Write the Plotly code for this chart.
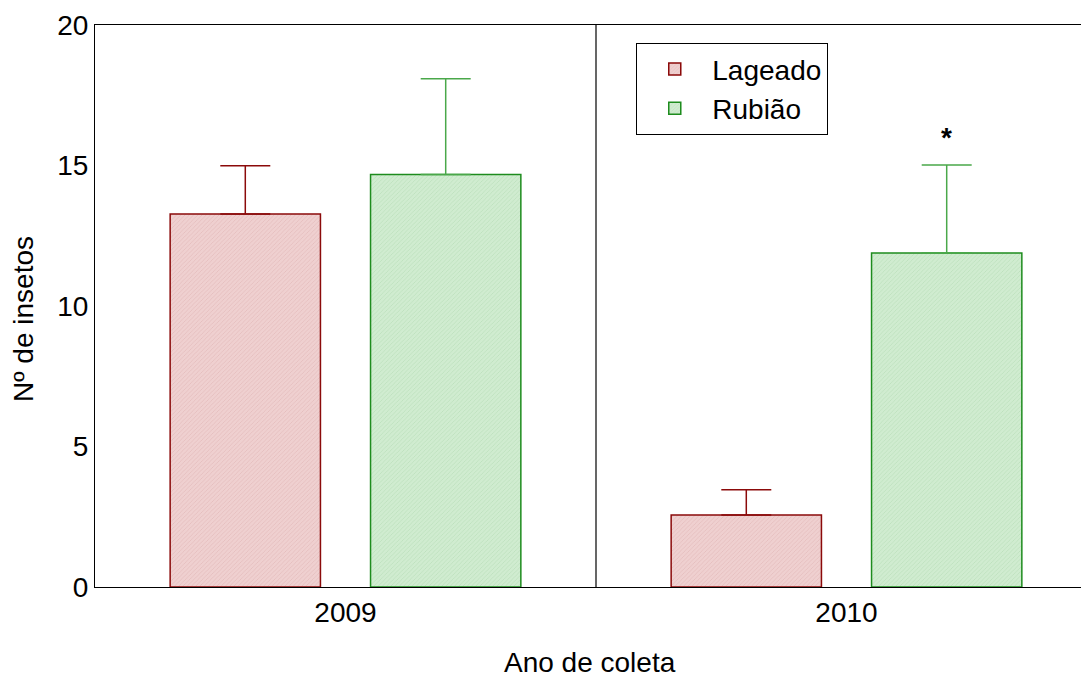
import plotly.graph_objects as go

years = ["2009", "2010"]
lageado_mean = [13.27, 2.56]
lageado_err = [1.72, 0.90]
rubiao_mean = [14.68, 11.89]
rubiao_err = [3.41, 3.13]
signif_year = ["2010"]
signif_y = [16.0]

xpos = list(range(len(years)))
FONT = "Liberation Sans, Arial"

fig = go.Figure()
fig.add_trace(go.Bar(
    name="Lageado", x=xpos, y=lageado_mean, width=0.3, offset=-0.35,
    marker=dict(color="#ecc8c8", line=dict(color="#8b0a0a", width=1.5),
                pattern=dict(shape="/", size=3, solidity=0.25, fgcolor="#d9a8a8", bgcolor="#efd0d0")),
    error_y=dict(type="data", array=lageado_err, arrayminus=[0]*len(years), symmetric=False,
                 color="#8b0a0a", thickness=1.5, width=25),
))
fig.add_trace(go.Bar(
    name="Rubião", x=xpos, y=rubiao_mean, width=0.3, offset=0.05,
    marker=dict(color="#c8e8c8", line=dict(color="#1e8c1e", width=1.5),
                pattern=dict(shape="/", size=3, solidity=0.25, fgcolor="#a8d4a8", bgcolor="#d0ecd0")),
    error_y=dict(type="data", array=rubiao_err, arrayminus=[0]*len(years), symmetric=False,
                 color="#4aa84a", thickness=1.5, width=25),
))

for yr, yv in zip(signif_year, signif_y):
    fig.add_annotation(x=years.index(yr) + 0.2, y=yv, text="<b>*</b>", showarrow=False,
                       font=dict(size=28, color="black", family=FONT))

# axis titles
fig.add_annotation(xref="paper", yref="paper", x=0.494, y=-0.1335, text="Ano de coleta",
                   showarrow=False, xanchor="center", yanchor="middle",
                   font=dict(size=28, family=FONT, color="black"))
fig.add_annotation(xref="paper", yref="paper", x=-0.0709, y=0.477, text="Nº de insetos",
                   textangle=-90, showarrow=False, xanchor="center", yanchor="middle",
                   font=dict(size=28, family=FONT, color="black"))

# category divider
for i in range(len(years) - 1):
    fig.add_shape(type="line", xref="x", yref="y", x0=i + 0.5, x1=i + 0.5, y0=0, y1=20,
                  line=dict(color="black", width=1.2))

fig.update_layout(
    width=1089, height=677,
    margin=dict(l=87, r=0, t=17, b=98, autoexpand=False),
    plot_bgcolor="white", paper_bgcolor="white",
    font=dict(family=FONT, size=28, color="black"),
    barmode="overlay",
    showlegend=True,
    legend=dict(x=0.54, y=0.968, xanchor="left", yanchor="top",
                bordercolor="black", borderwidth=1.2, bgcolor="white",
                font=dict(size=28, family=FONT), itemwidth=65, tracegroupgap=10),
    xaxis=dict(tickmode="array", tickvals=xpos, ticktext=years, range=[-0.5, 1.5],
               showline=True, linecolor="black", linewidth=1.2, mirror=True,
               showgrid=False, zeroline=False, ticks="", automargin=False,
               tickfont=dict(size=28, family=FONT)),
    yaxis=dict(range=[0, 20], tickvals=[0, 5, 10, 15, 20], showline=True, linecolor="black",
               linewidth=1.2, showgrid=False, zeroline=False, ticks="", automargin=False,
               tickfont=dict(size=28, family=FONT)),
)

fig.write_html("out.html")
